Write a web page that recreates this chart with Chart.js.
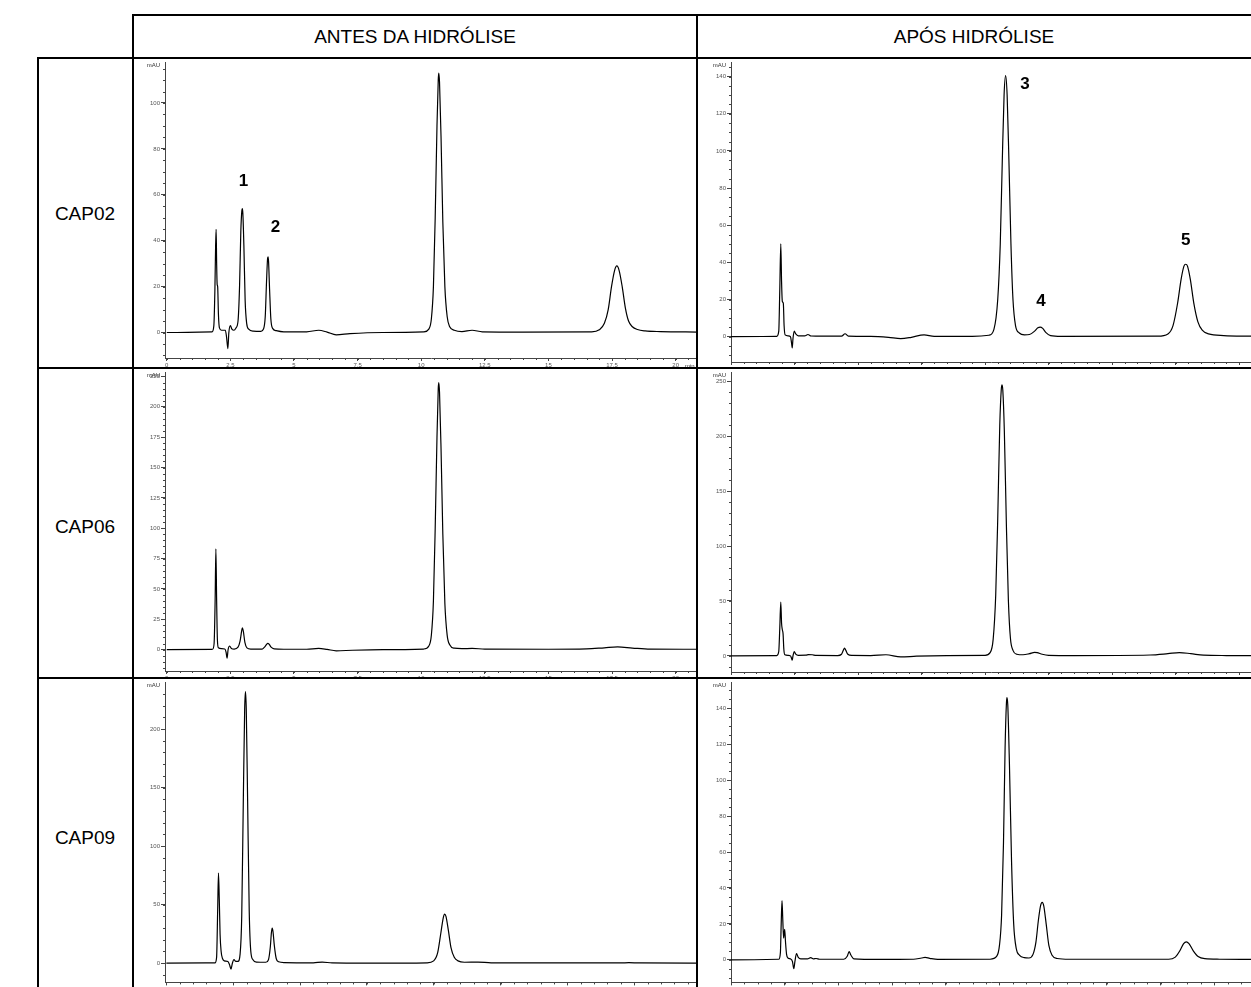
<!DOCTYPE html>
<html>
<head>
<meta charset="utf-8">
<script src="https://cdn.jsdelivr.net/npm/chart.js@4.4.1/dist/chart.umd.min.js"></script>
<style>
  html, body { margin: 0; padding: 0; background: #fff; }
  body { width: 1251px; height: 987px; position: relative; overflow: hidden; font-family: Arial, "Liberation Sans", sans-serif; }
  canvas { position: absolute; }
  .rule { position: absolute; background: #000; z-index: 2; }
  .txt { position: absolute; transform: translate(-50%, -50%); white-space: nowrap; color: #000; font-size: 19px; z-index: 3; }
</style>
</head>
<body>
<script>
// chromatogram traces: [time (min), signal (mAU)]
const traceA = [[0,0],[1.78,0.3],[1.85,3],[1.89,18],[1.92,38],[1.94,45],[1.96,30],[1.98,21],[2.00,20],[2.03,8],[2.07,2],[2.15,1],[2.30,1],[2.35,-2],[2.40,-7],[2.44,0],[2.50,3],[2.56,1.5],[2.64,1],[2.72,2],[2.80,5],[2.86,20],[2.91,44],[2.95,53],[2.97,54],[2.99,52],[3.03,38],[3.08,14],[3.14,4],[3.22,1.5],[3.40,0.6],[3.70,0.5],[3.80,1.5],[3.87,7],[3.92,22],[3.96,32],[3.98,33],[4.00,31],[4.04,19],[4.09,6],[4.16,1.8],[4.30,0.8],[4.60,0.3],[5.50,0.3],[5.97,1],[6.30,0.2],[6.66,-1],[7.20,-0.5],[8.50,0],[10.10,0.3],[10.30,1.5],[10.40,6],[10.48,20],[10.55,50],[10.62,90],[10.67,110],[10.69,113],[10.72,109],[10.78,85],[10.85,48],[10.93,20],[11.02,7],[11.12,2.5],[11.30,1],[11.60,0.4],[12.00,1],[12.40,0.3],[14.00,0.2],[16.70,0.3],[17.00,1.2],[17.20,4],[17.35,10],[17.48,20],[17.60,27],[17.69,29],[17.78,27],[17.90,20],[18.02,11],[18.15,5],[18.30,2.5],[18.50,1.3],[18.80,0.7],[19.40,0.4],[20.90,0.2]];

const traceB = [[0,0],[1.80,0.2],[1.88,3],[1.92,25],[1.96,50],[1.99,30],[2.02,19],[2.06,18],[2.09,6],[2.13,1],[2.25,0.5],[2.34,0],[2.38,-3],[2.41,-6],[2.44,-1],[2.49,3],[2.55,1.5],[2.65,0.5],[2.90,0.5],[3.03,1.2],[3.15,0.4],[3.60,0.3],[4.35,0.3],[4.49,1.6],[4.62,0.3],[5.50,0.2],[6.20,-0.3],[6.68,-1],[7.10,-0.3],[7.60,1],[8.00,0.2],[9.50,0.2],[10.15,0.8],[10.35,4],[10.50,20],[10.60,50],[10.68,95],[10.75,130],[10.81,140.5],[10.87,130],[10.94,95],[11.02,50],[11.10,20],[11.20,6],[11.35,2],[11.55,1],[11.75,1.2],[11.95,3],[12.08,4.8],[12.17,5.2],[12.27,4.5],[12.40,2.2],[12.58,0.6],[13.00,0.2],[16.80,0.3],[17.20,1.5],[17.40,6],[17.58,18],[17.72,31],[17.83,38],[17.90,39],[17.97,38],[18.08,31],[18.22,18],[18.38,8],[18.55,3.5],[18.80,1.5],[19.40,0.6],[20.47,0.3]];

const traceC = [[0,0],[1.80,0.3],[1.86,5],[1.90,40],[1.93,83],[1.96,40],[1.99,8],[2.03,1.5],[2.15,0.8],[2.28,0.5],[2.33,-2],[2.37,-7],[2.41,0],[2.47,3],[2.54,1],[2.65,0.5],[2.80,2],[2.88,7],[2.94,15],[2.97,18],[3.01,15],[3.07,6],[3.15,1.5],[3.30,0.5],[3.75,0.5],[3.86,2.5],[3.93,4.6],[3.97,5.2],[4.02,4.5],[4.10,2],[4.22,0.6],[4.60,0.3],[5.50,0.3],[5.97,1],[6.30,0.2],[6.66,-1],[7.30,-0.5],[8.50,0],[10.10,0.5],[10.30,3],[10.40,12],[10.48,40],[10.55,100],[10.62,175],[10.67,215],[10.69,220],[10.72,212],[10.78,165],[10.85,95],[10.93,38],[11.02,12],[11.12,4],[11.30,1.2],[11.60,0.8],[12.00,1],[12.50,0.5],[15.00,0.3],[16.50,0.6],[17.20,1.5],[17.72,2.2],[18.30,1.3],[19.00,0.4],[20.90,0.3]];

const traceD = [[0,0],[1.80,0.3],[1.88,4],[1.92,25],[1.96,49],[1.99,30],[2.02,24],[2.05,20],[2.08,6],[2.12,1],[2.25,0.5],[2.34,0],[2.38,-2],[2.41,-4],[2.44,0],[2.49,4],[2.55,1.5],[2.65,0.5],[2.95,0.6],[3.05,1.2],[3.20,1],[3.35,0.4],[4.20,0.3],[4.35,1.5],[4.42,5],[4.47,7],[4.52,5],[4.60,1.5],[4.75,0.4],[5.50,0.3],[6.10,1],[6.68,-1],[7.30,-0.3],[8.50,0.2],[10.00,0.5],[10.20,3],[10.32,15],[10.42,55],[10.50,125],[10.58,210],[10.64,243],[10.67,247],[10.70,242],[10.76,205],[10.84,120],[10.92,50],[11.00,16],[11.10,5],[11.25,1.5],[11.50,1],[11.75,2],[11.95,3.2],[12.05,3],[12.25,1.5],[12.50,0.5],[13.50,0.3],[16.50,0.8],[17.20,2],[17.65,3],[18.10,2],[18.60,0.6],[19.50,0.3],[20.47,0.2]];

const traceE = [[0,0],[1.82,0.3],[1.88,5],[1.92,45],[1.95,77],[1.98,55],[2.01,25],[2.05,10],[2.10,4],[2.17,2],[2.30,1.5],[2.36,-1],[2.42,-5],[2.47,0],[2.53,3],[2.60,1.5],[2.68,1.5],[2.76,8],[2.82,40],[2.88,140],[2.93,217],[2.96,232],[2.99,217],[3.04,140],[3.10,45],[3.16,10],[3.24,3],[3.37,1],[3.72,0.8],[3.82,3],[3.89,14],[3.93,26],[3.96,30],[3.99,27],[4.04,15],[4.11,4],[4.20,1.2],[4.42,0.5],[5.50,0.3],[5.83,1],[6.20,0.2],[8.00,0],[9.75,0.3],[10.00,2],[10.15,9],[10.27,26],[10.36,39],[10.41,42],[10.46,40],[10.55,28],[10.65,13],[10.77,5],[10.91,2],[11.15,0.8],[11.66,1],[12.15,0.3],[17.00,0.2],[17.30,0.5],[17.70,0.2],[19.90,0.1]];

const traceF = [[0,0],[1.78,0.3],[1.84,4],[1.87,20],[1.90,33],[1.93,22],[1.96,12],[1.98,15],[2.00,17],[2.03,10],[2.07,3],[2.12,1],[2.22,0.5],[2.29,-1],[2.34,-5],[2.38,-1],[2.44,3.5],[2.50,1.5],[2.60,0.5],[2.85,0.5],[2.97,1.2],[3.07,0.5],[3.17,0.7],[3.30,0.3],[4.20,0.3],[4.33,2],[4.40,4.5],[4.47,2.5],[4.58,0.5],[5.50,0.2],[6.80,0.3],[7.10,1],[7.23,1.3],[7.40,0.8],[7.70,0.2],[9.65,0.3],[9.90,2],[10.00,8],[10.08,25],[10.15,65],[10.21,118],[10.26,143],[10.28,146],[10.31,142],[10.37,110],[10.45,55],[10.53,20],[10.63,6],[10.75,2.5],[10.92,1.2],[11.10,1],[11.25,3],[11.36,10],[11.45,22],[11.53,30],[11.59,32],[11.65,30],[11.74,20],[11.84,8],[11.96,2.5],[12.15,0.7],[12.60,0.3],[16.30,0.3],[16.55,1.5],[16.72,5],[16.86,9],[16.96,10],[17.06,9],[17.22,5],[17.40,1.8],[17.65,0.6],[18.20,0.3],[19.37,0.2]];

// table text
const columnTitles = ['ANTES DA HIDRÓLISE', 'APÓS HIDRÓLISE'];
const sampleNames = ['CAP02', 'CAP06', 'CAP09'];

// peak numbers: panel, retention time and signal level where the number sits
const peakNames = ['1', '2', '3', '4', '5'];
const peakPanel = ['A', 'A', 'B', 'B', 'B'];
const peakTime = [3.01, 4.27, 11.57, 12.2, 17.9];
const peakLevel = [66, 46, 136, 19, 52];

// axis settings per panel
const panels = [
  { id: 'A', trace: traceA, xMin: -0.07, xMax: 20.84, xStep: 2.5, yMin: -11.1, yMax: 117.6, yStep: 20, yMinor: 5,  box: [133, 58, 564, 310], yW: 32, top: 2, xH: 10, minLabel: true },
  { id: 'B', trace: traceB, xMin: 0, xMax: 20.47, xStep: 2.5, yMin: -13.6, yMax: 147.5, yStep: 20, yMinor: 5,  box: [697, 58, 554, 310], yW: 34, top: 2, xH: 6 },
  { id: 'C', trace: traceC, xMin: -0.07, xMax: 20.84, xStep: 2.5, yMin: -17.6, yMax: 228.2, yStep: 25, yMinor: 5,  box: [133, 368, 564, 310], yW: 32, top: 2, xH: 7, minLabel: true },
  { id: 'D', trace: traceD, xMin: 0, xMax: 20.47, xStep: 2.5, yMin: -14.7, yMax: 258.1, yStep: 50, yMinor: 10, box: [697, 368, 554, 310], yW: 34, top: 2, xH: 6 },
  { id: 'E', trace: traceE, xMin: -0.05, xMax: 19.85, xStep: 2.5, yMin: -16.4, yMax: 239.7, yStep: 50, yMinor: 10, box: [133, 678, 564, 309], yW: 32, top: 1, xH: 4 },
  { id: 'F', trace: traceF, xMin: 0, xMax: 19.37, xStep: 2,   yMin: -12.6, yMax: 154.4, yStep: 20, yMinor: 5,  box: [697, 678, 554, 309], yW: 34, top: 1, xH: 4 }
];

const axisGrey = '#444'

const minorTicks = {
  id: 'minorTicks',
  afterDraw(chart, args, opts) {
    const {ctx, chartArea, scales: {x, y}} = chart
    ctx.save()
    ctx.strokeStyle = axisGrey
    ctx.lineWidth = 1
    ctx.beginPath()
    for (let i = Math.ceil(x.min / opts.x); i * opts.x <= x.max; i++) {
      const px = Math.round(x.getPixelForValue(i * opts.x)) + 0.5
      ctx.moveTo(px, chartArea.bottom)
      ctx.lineTo(px, chartArea.bottom + 2)
    }
    for (let i = Math.ceil(y.min / opts.y); i * opts.y <= y.max; i++) {
      const py = Math.round(y.getPixelForValue(i * opts.y)) + 0.5
      ctx.moveTo(chartArea.left - 2, py)
      ctx.lineTo(chartArea.left, py)
    }
    ctx.stroke()
    ctx.restore()
  }
}

const panelText = {
  id: 'panelText',
  afterDraw(chart, args, opts) {
    const {ctx, chartArea, scales: {x, y}} = chart
    ctx.save()
    ctx.fillStyle = '#333'
    ctx.font = '6px Arial'
    ctx.textAlign = 'right'
    ctx.textBaseline = 'middle'
    ctx.fillText('mAU', chartArea.left - 5, chartArea.top + 3)
    if (opts.minLabel) {
      ctx.textAlign = 'left'
      ctx.fillText('min', chartArea.right - 12, chartArea.bottom + 8)
    }
    ctx.fillStyle = '#000'
    ctx.font = 'bold 17px Arial'
    ctx.textAlign = 'center'
    peakNames.forEach((name, i) => {
      if (peakPanel[i] !== opts.id) return
      ctx.fillText(name, x.getPixelForValue(peakTime[i]), y.getPixelForValue(peakLevel[i]))
    })
    ctx.restore()
  }
}

const fmt = v => String(Math.round(v * 100) / 100)

for (const p of panels) {
  const canvas = document.createElement('canvas')
  canvas.width = p.box[2]
  canvas.height = p.box[3]
  canvas.style.left = p.box[0] + 'px'
  canvas.style.top = p.box[1] + 'px'
  document.body.appendChild(canvas)

  new Chart(canvas, {
    type: 'line',
    data: {
      datasets: [{
        data: p.trace.map(([x, y]) => ({x, y})),
        borderColor: '#000',
        borderWidth: 1.2,
        pointRadius: 0,
        cubicInterpolationMode: 'monotone',
        fill: false
      }]
    },
    options: {
      responsive: false,
      animation: false,
      devicePixelRatio: 1,
      layout: { padding: { top: p.top, left: 0, right: 0, bottom: 0 } },
      plugins: {
        legend: { display: false },
        tooltip: { enabled: false },
        minorTicks: { x: 0.5, y: p.yMinor },
        panelText: { id: p.id, minLabel: p.minLabel }
      },
      scales: {
        x: {
          type: 'linear',
          min: p.xMin,
          max: p.xMax,
          afterFit: s => { s.height = p.xH },
          ticks: { stepSize: p.xStep, includeBounds: false, autoSkip: false, maxRotation: 0, padding: 1, color: '#555', font: { size: 6, family: 'Arial' }, callback: fmt },
          grid: { drawOnChartArea: false, tickLength: 3, color: axisGrey },
          border: { color: axisGrey, width: 1 }
        },
        y: {
          min: p.yMin,
          max: p.yMax,
          afterFit: s => { s.width = p.yW },
          ticks: { stepSize: p.yStep, includeBounds: false, autoSkip: false, padding: 1, color: '#555', font: { size: 6, family: 'Arial' }, callback: fmt },
          grid: { drawOnChartArea: false, tickLength: 4, color: axisGrey },
          border: { color: axisGrey, width: 1 }
        }
      }
    },
    plugins: [minorTicks, panelText]
  })
}

// table rules
const rules = [
  [133, 14, 1118, 2], [37, 57, 1214, 2], [37, 367, 1214, 2], [37, 677, 1214, 2],
  [37, 57, 2, 930], [132, 14, 2, 973], [696, 14, 2, 973]
]
for (const [l, t, w, h] of rules) {
  const d = document.createElement('div')
  d.className = 'rule'
  Object.assign(d.style, { left: l + 'px', top: t + 'px', width: w + 'px', height: h + 'px' })
  document.body.appendChild(d)
}

const addText = (text, cx, cy) => {
  const d = document.createElement('div')
  d.className = 'txt'
  d.textContent = text
  d.style.left = cx + 'px'
  d.style.top = cy + 'px'
  document.body.appendChild(d)
}
addText(columnTitles[0], 415, 37)
addText(columnTitles[1], 974, 37)
sampleNames.forEach((name, i) => addText(name, 85, [214, 527, 838][i]))
</script>
</body>
</html>
